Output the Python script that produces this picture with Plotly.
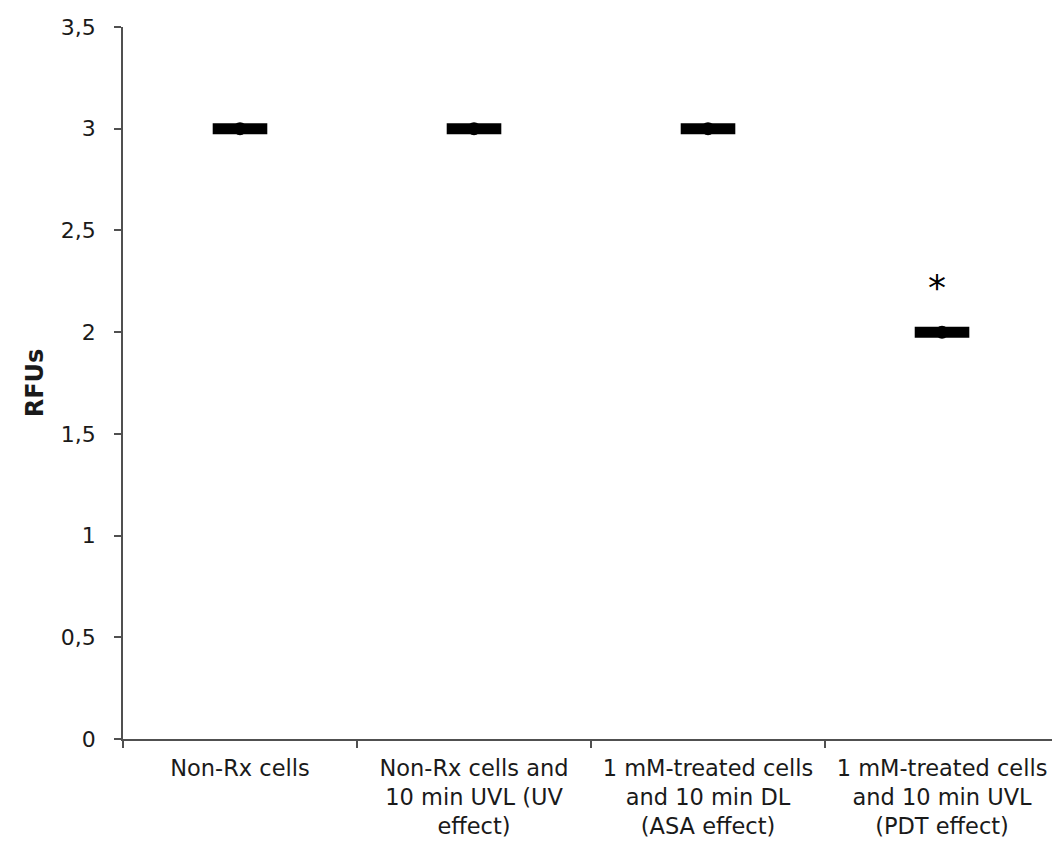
import plotly.graph_objects as go

categories = [
    "Non-Rx cells",
    "Non-Rx cells and<br>10 min UVL (UV<br>effect)",
    "1 mM-treated cells<br>and 10 min DL<br>(ASA effect)",
    "1 mM-treated cells<br>and 10 min UVL<br>(PDT effect)",
]
rfu_values = [3, 3, 3, 2]
significance = ["", "", "", "*"]
y_ticks = [0, 0.5, 1, 1.5, 2, 2.5, 3, 3.5]

FONT = "DejaVu Sans, Liberation Sans, Arial, sans-serif"
AXIS_COLOR = "#505050"
TEXT_COLOR = "#1a1a1a"

fig = go.Figure()
fig.add_trace(go.Scatter(
    x=categories, y=rfu_values, mode="markers",
    marker=dict(symbol="line-ew", size=39, color="black",
                line=dict(color="black", width=11)),
    hoverinfo="skip", showlegend=False,
))
fig.add_trace(go.Scatter(
    x=categories, y=rfu_values, mode="markers",
    marker=dict(symbol="circle", size=13, color="black"),
    showlegend=False,
))

for cat, val, sig in zip(categories, rfu_values, significance):
    if sig:
        fig.add_annotation(x=cat, y=val + 0.22, text=sig, showarrow=False,
                           font=dict(size=36, color="black", family=FONT),
                           yanchor="middle", xshift=-5)

fig.update_layout(
    width=1052, height=843,
    margin=dict(l=123, r=0, t=27, b=104),
    paper_bgcolor="white", plot_bgcolor="white",
    separators=", ",
    font=dict(family=FONT, size=22, color=TEXT_COLOR),
    xaxis=dict(
        type="category", categoryorder="array", categoryarray=categories,
        range=[-0.5, 3.47], tickson="boundaries",
        ticks="outside", ticklen=7, tickwidth=1.5, tickcolor=AXIS_COLOR,
        showline=True, linecolor=AXIS_COLOR, linewidth=1.5,
        showgrid=False, zeroline=False, ticklabelstandoff=8,
        tickfont=dict(size=22.5, family=FONT, color=TEXT_COLOR),
    ),
    yaxis=dict(
        range=[0, 3.5], tickvals=y_ticks,
        ticks="outside", ticklen=7, tickwidth=1.5, tickcolor=AXIS_COLOR,
        showline=True, linecolor=AXIS_COLOR, linewidth=1.5,
        showgrid=False, zeroline=False, ticklabelstandoff=14,
        tickfont=dict(size=22, family=FONT, color=TEXT_COLOR),
        title=dict(text="<b>RFUs</b>", font=dict(size=24, family=FONT, color=TEXT_COLOR),
                   standoff=10),
    ),
)

fig.write_html(
    "out.html",
    config={"displayModeBar": False},
    post_script="document.body.style.margin='0';document.body.style.overflow='hidden';"
                "document.documentElement.style.overflow='hidden';",
)
